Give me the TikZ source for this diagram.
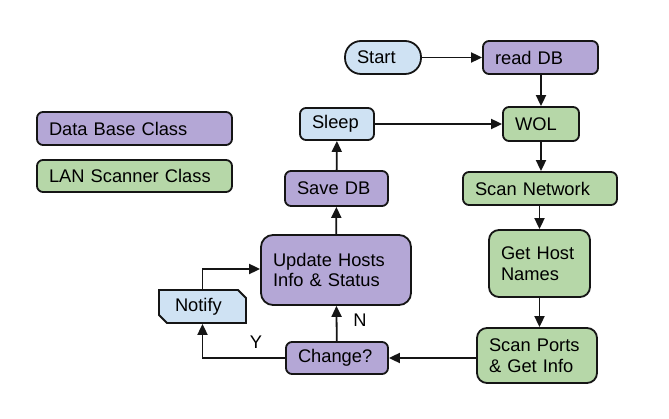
\documentclass[tikz,border=0pt]{standalone}
\usepackage{fontspec}
\setmainfont{Liberation Sans}
\usetikzlibrary{arrows.meta,shapes.misc}
\definecolor{dbfill}{HTML}{B4A7D6}
\definecolor{lanfill}{HTML}{B6D7A8}
\definecolor{bluefill}{HTML}{CFE2F3}
\definecolor{edge}{HTML}{151515}
\tikzset{
  box/.style={draw=edge, line width=1.8pt, rounded corners=6pt, align=left,
    inner xsep=12pt, inner ysep=0pt, font=\fontsize{18.3}{20.5}\selectfont},
  dbbox/.style={box, fill=dbfill},
  lanbox/.style={box, fill=lanfill},
  bluebox/.style={box, fill=bluefill},
  conn/.style={draw=edge, line width=1.8pt, -{Triangle[length=11pt,width=10pt]}},
  lbl/.style={font=\fontsize{18.3}{20}\selectfont, inner sep=0pt}
}
\begin{document}
\begin{tikzpicture}[x=1pt,y=-1pt]
\useasboundingbox (0,0) rectangle (669,419);
\fill[white] (0,0) rectangle (669,419);
% legend
\node[dbbox, text width=171pt, minimum height=33pt] (dbc) at (134.5,128.5) {Data Base Class};
\node[lanbox, text width=171pt, minimum height=32pt] (lanc) at (134.5,176) {LAN Scanner Class};
% flow
\node[bluebox, rounded corners=16pt, text width=52pt, minimum height=33pt] (start) at (383,57.5) {Start};
\node[dbbox, text width=91pt, minimum height=33pt] (readdb) at (540.5,57.5) {read DB};
\node[lanbox, text width=52pt, minimum height=34pt] (wol) at (541,124) {WOL};
\node[bluebox, text width=50pt, minimum height=32pt] (sleep) at (337,124) {Sleep};
\node[dbbox, text width=79pt, minimum height=35pt] (savedb) at (336.5,188.5) {Save DB};
\node[dbbox, rounded corners=12pt, text width=126pt, minimum height=70pt] (update) at (336,270) {Update Hosts\\Info \& Status};
\node[draw=edge, line width=1.8pt, fill=bluefill, chamfered rectangle,
  chamfered rectangle corners={north east,south west}, chamfered rectangle xsep=4pt,
  chamfered rectangle ysep=4pt, align=left, inner xsep=12pt, inner ysep=0pt,
  text width=55pt, minimum height=33pt, font=\fontsize{18.3}{20.5}\selectfont] (notify) at (202.5,306.5) {Notify};
\node[dbbox, text width=78pt, minimum height=32pt] (change) at (337,358) {Change?};
\node[lanbox, text width=130pt, minimum height=33pt] (scannet) at (540,188.5) {Scan Network};
\node[lanbox, rounded corners=10pt, text width=77pt, minimum height=67pt] (gethost) at (539.5,263.5) {Get Host\\Names};
\node[lanbox, rounded corners=10pt, text width=96pt, minimum height=55pt] (scanports) at (537,355.5) {Scan Ports\\\& Get Info};
% connectors
\draw[conn] (start) -- (readdb);
\draw[conn] (readdb.south -| wol) -- (wol);
\draw[conn] (sleep) -- (wol);
\draw[conn] (wol) -- (wol |- scannet.north);
\draw[conn] (scannet.south -| gethost) -- (gethost);
\draw[conn] (gethost) -- (gethost |- scanports.north);
\draw[conn] (scanports.west |- change) -- (change);
\draw[conn] (change) -- (update);
\draw[conn] (change.west) -| (notify.south);
\draw[conn] (notify.north) |- ([yshift=1pt]update.west);
\draw[conn] (update) -- (savedb);
\draw[conn] (savedb) -- (sleep);
% labels
\node[lbl] (nlab) at (360,320) {N};
\node[lbl] (ylab) at (256,342) {Y};
\end{tikzpicture}
\end{document}
